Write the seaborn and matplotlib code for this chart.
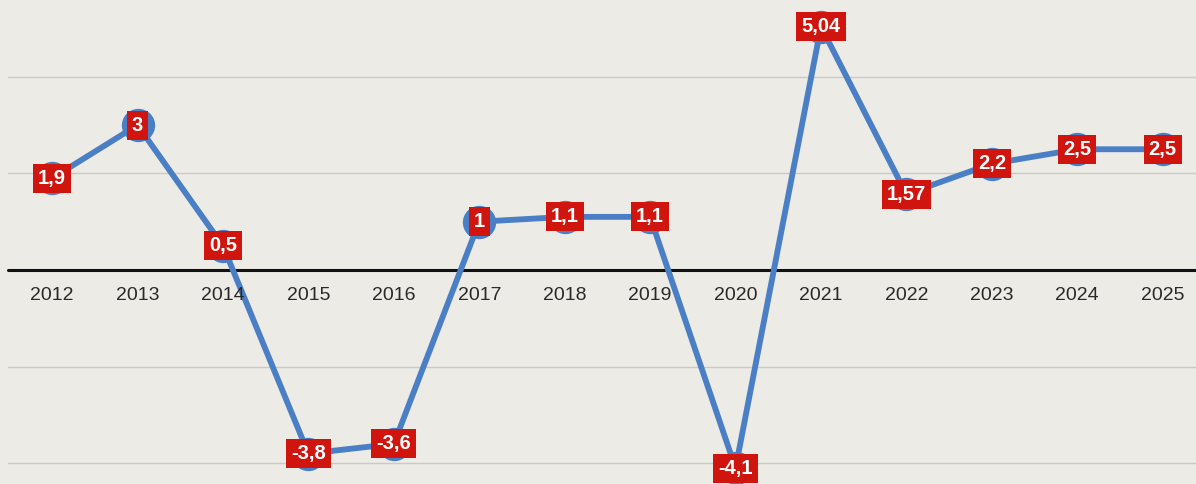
import matplotlib
matplotlib.use("Agg")
import matplotlib.pyplot as plt
import seaborn as sns
import pandas as pd

# DATA
years = [2012, 2013, 2014, 2015, 2016, 2017, 2018, 2019,
         2020, 2021, 2022, 2023, 2024, 2025]
growth = [1.9, 3.0, 0.5, -3.8, -3.6, 1.0, 1.1, 1.1,
          -4.1, 5.04, 1.57, 2.2, 2.5, 2.5]
labels = ["1,9", "3", "0,5", "-3,8", "-3,6", "1", "1,1", "1,1",
          "-4,1", "5,04", "1,57", "2,2", "2,5", "2,5"]

# STYLE SETTINGS
sns.set_style("white")
plt.rcParams["font.family"] = ["Liberation Sans", "DejaVu Sans"]

df = pd.DataFrame({"year": years, "growth": growth})

fig = plt.figure(figsize=(11.96, 4.84), dpi=100)
fig.patch.set_facecolor("#ecebe6")
ax = fig.add_axes([0, 0, 1, 1])
ax.set_facecolor("#ecebe6")

# grid lines
for g in [-4, -2, 2, 4]:
    ax.axhline(g, xmin=0.007, color="#c9c9c6", linewidth=1, zorder=0)
ax.axhline(0, xmin=0.007, color="#111111", linewidth=2.2, zorder=1)

sns.lineplot(
    data=df,
    x="year",
    y="growth",
    color="#4a7fc6",
    linewidth=4.2,
    marker="o",
    markersize=24,
    markeredgewidth=0,
    ax=ax,
    zorder=2
)

for yr, val, lab in zip(years, growth, labels):
    ax.text(
        yr, val, lab,
        ha="center", va="center",
        color="white", fontsize=14.5, fontweight="bold",
        bbox=dict(boxstyle="square,pad=0.25", facecolor="#d0150f",
                  edgecolor="none"),
        zorder=3
    )

for yr in years:
    ax.annotate(
        str(yr), (yr, 0),
        xytext=(0, -12), textcoords="offset points",
        ha="center", va="top",
        fontsize=14, color="#2a2a2a"
    )

ax.set_xlim(2011.39, 2025.39)
ax.set_ylim(-4.43, 5.59)
ax.set_xlabel("")
ax.set_ylabel("")
ax.set_xticks([])
ax.set_yticks([])
for s in ax.spines.values():
    s.set_visible(False)

plt.savefig("out.png", dpi=100)
plt.close()
